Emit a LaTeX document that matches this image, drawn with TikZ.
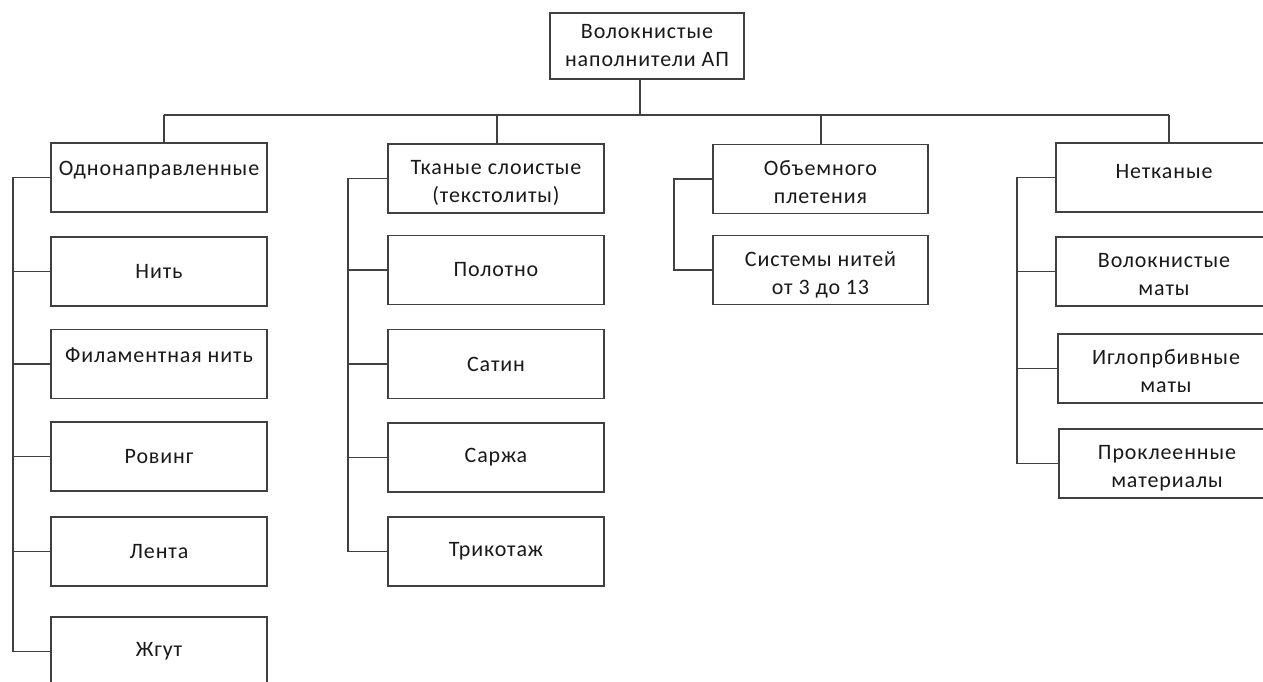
\documentclass[tikz,border=0pt]{standalone}
\usepackage{fontspec}
\setmainfont{Carlito}[LetterSpace=4]
\usetikzlibrary{positioning}

\tikzset{
  blk/.style={draw=black!75, line width=1.3pt, minimum width=216pt, minimum height=69pt,
    align=center, inner sep=2pt, text=black!90, font=\fontsize{22}{28}\selectfont},
  up/.style={text depth=18pt},
  two/.style={text height=48pt, text depth=0pt},
  lnk/.style={draw=black!75, line width=1.3pt}
}

\begin{document}
\begin{tikzpicture}[x=1pt,y=-1pt]
    \useasboundingbox (0,0) rectangle (1263,682);
    \clip (0,0) rectangle (1263,682);

    % корень
    \node[blk, minimum width=194pt, minimum height=66pt] (root) at (647,46) {Волокнистые\\наполнители АП};

    % точки шины
    \coordinate (st) at (640,115);
    \coordinate (d1) at (164,115);
    \coordinate (d2) at (497,115);
    \coordinate (d3) at (821,115);
    \coordinate (d4) at (1169,115);

    % стойки столбцов
    \coordinate (s1) at (13,0);
    \coordinate (s2) at (348,0);
    \coordinate (s3) at (674,0);
    \coordinate (s4) at (1017,0);

    % столбец 1
    \node[blk, up] (a0) at (159,177.5) {Однонаправленные};
    \node[blk] (a1) at (159,271.5) {Нить};
    \node[blk, up] (a2) at (159,364) {Филаментная нить};
    \node[blk] (a3) at (159,456.5) {Ровинг};
    \node[blk] (a4) at (159,551.5) {Лента};
    \node[blk] (a5) at (159,651.5) {Жгут};

    % столбец 2
    \node[blk, two] (b0) at (496,178.5) {Тканые слоистые\\(текстолиты)};
    \node[blk] (b1) at (496,270) {Полотно};
    \node[blk] (b2) at (496,364) {Сатин};
    \node[blk] (b3) at (496,457.5) {Саржа};
    \node[blk] (b4) at (496,551.5) {Трикотаж};

    % столбец 3
    \node[blk, two, minimum width=215pt] (c0) at (820.5,179) {Объемного\\плетения};
    \node[blk, two, minimum width=215pt] (c1) at (820.5,270) {Системы нитей\\от 3 до 13};

    % столбец 4
    \node[blk, up, text depth=12pt] (e0) at (1164,177.5) {Нетканые};
    \node[blk, two] (e1) at (1164,271.5) {Волокнистые\\маты};
    \node[blk, two] (e2) at (1166,368.5) {Иглопрбивные\\маты};
    \node[blk, two] (e3) at (1167,463.5) {Проклеенные\\материалы};

    % шина
    \draw[lnk] (root.south -| st) -- (st);
    \draw[lnk] (d1) -- (d4);
    \draw[lnk] (d1) -- (d1 |- a0.north);
    \draw[lnk] (d2) -- (d2 |- b0.north);
    \draw[lnk] (d3) -- (d3 |- c0.north);
    \draw[lnk] (d4) -- (d4 |- e0.north);

    % связи столбца 1
    \draw[lnk] (a0.west) -- (a0.west -| s1) -- (a5.west -| s1) -- (a5.west);
    \draw[lnk] (a1.west -| s1) -- (a1.west);
    \draw[lnk] (a2.west -| s1) -- (a2.west);
    \draw[lnk] (a3.west -| s1) -- (a3.west);
    \draw[lnk] (a4.west -| s1) -- (a4.west);

    % связи столбца 2
    \draw[lnk] (b0.west) -- (b0.west -| s2) -- (b4.west -| s2) -- (b4.west);
    \draw[lnk] (b1.west -| s2) -- (b1.west);
    \draw[lnk] (b2.west -| s2) -- (b2.west);
    \draw[lnk] (b3.west -| s2) -- (b3.west);

    % связи столбца 3
    \draw[lnk] (c0.west) -- (c0.west -| s3) -- (c1.west -| s3) -- (c1.west);

    % связи столбца 4
    \draw[lnk] (e0.west) -- (e0.west -| s4) -- (e3.west -| s4) -- (e3.west);
    \draw[lnk] (e1.west -| s4) -- (e1.west);
    \draw[lnk] (e2.west -| s4) -- (e2.west);

\end{tikzpicture}
\end{document}
